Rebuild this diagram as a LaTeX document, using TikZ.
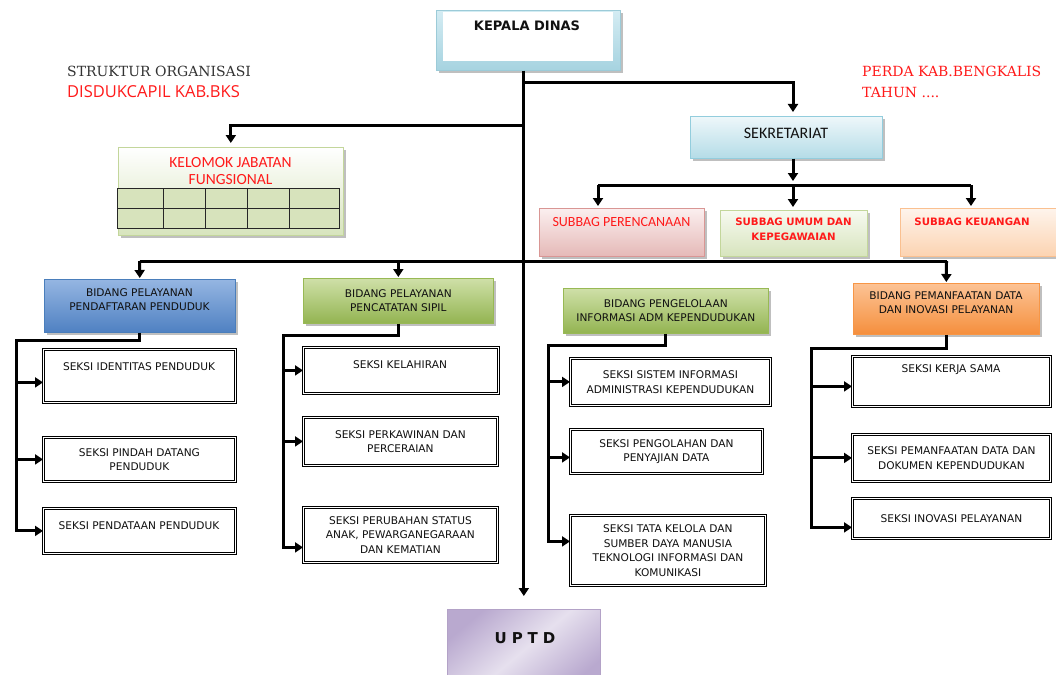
\documentclass[tikz,border=0pt]{standalone}
\usepackage{fontspec}
\setmainfont{DejaVu Sans}
\newfontfamily\serf{DejaVu Serif}
\newfontfamily\opens{Open Sans}
\newfontfamily\carl{Carlito}
\usetikzlibrary{arrows.meta,shadows,calc}
\definecolor{ored}{HTML}{FF1A1A}
\definecolor{ttl}{HTML}{333333}
\definecolor{kdtop}{HTML}{D4ECF3}
\definecolor{kdbot}{HTML}{A6D3E0}
\definecolor{kdbd}{HTML}{9CCBD8}
\definecolor{sek1}{HTML}{EEF7FA}
\definecolor{sek2}{HTML}{B4DCE7}
\definecolor{sekbd}{HTML}{93CDDD}
\definecolor{pk1}{HTML}{FBEFEF}
\definecolor{pk2}{HTML}{E5B9B7}
\definecolor{pkbd}{HTML}{D99694}
\definecolor{gr1}{HTML}{F7FAF1}
\definecolor{gr2}{HTML}{D7E4BD}
\definecolor{grbd}{HTML}{C3D69B}
\definecolor{or1}{HTML}{FEF4EC}
\definecolor{or2}{HTML}{FCD3B1}
\definecolor{orbd}{HTML}{FAC090}
\definecolor{bl1}{HTML}{95B6E2}
\definecolor{bl2}{HTML}{4F81C2}
\definecolor{blbd}{HTML}{4A7EBB}
\definecolor{gg1}{HTML}{CFE0A8}
\definecolor{gg2}{HTML}{93B451}
\definecolor{ggbd}{HTML}{98B954}
\definecolor{oo1}{HTML}{FCC395}
\definecolor{oo2}{HTML}{F58F3D}
\definecolor{oobd}{HTML}{F79646}
\definecolor{pu1}{HTML}{E6E0EE}
\definecolor{pu2}{HTML}{B9A9CF}
\definecolor{pubd}{HTML}{B3A2C7}
\definecolor{gridf}{HTML}{D7E3BC}
\definecolor{dtext}{HTML}{111111}
\begin{document}
\begin{tikzpicture}[x=1pt,y=-1pt,
  conn/.style={line width=3pt, draw=black},
  arr/.style={-{Triangle[length=8pt,width=10pt]}},
  sh/.style={drop shadow={shadow xshift=2.5pt,shadow yshift=-2.5pt,fill=black!50,opacity=0.5}},
  bx/.style={rectangle, inner sep=0pt, anchor=north west, align=center},
  small/.style={font=\fontsize{10.6}{14.5}\selectfont, text=dtext},
  seksi/.style={bx, small, draw=black, double=white, double distance=1.4pt, line width=0.8pt},
  bidtxt/.style={small},
  txt/.style={inner sep=0pt, align=center}
]
\useasboundingbox (0,0) rectangle (1056,674);
\clip (0,0) rectangle (1056,674);
\fill[white] (0,0) rectangle (1056,674);

% titles
\node[txt, anchor=west, font=\serf\fontsize{14}{16}\selectfont, text=ttl] (t1) at (67,71) {STRUKTUR ORGANISASI};
\node[txt, anchor=west, font=\opens\fontsize{16.5}{18}\selectfont, text=ored] (t2) at (67,92) {DISDUKCAPIL KAB.BKS};
\node[txt, anchor=west, font=\serf\fontsize{14}{16}\selectfont, text=ored] (t3) at (862,71) {PERDA KAB.BENGKALIS};
\node[txt, anchor=west, font=\serf\fontsize{14}{16}\selectfont, text=ored] (t4) at (862,92) {TAHUN ....};

% kepala dinas
\node[bx, minimum width=184pt, minimum height=60pt, top color=kdtop, bottom color=kdbot, draw=kdbd, line width=0.6pt, sh] (kd) at (436,10) {};
\fill[white] ($(kd.north west)+(7,2)$) rectangle ($(kd.south east)+(-8,-10)$);
\node[txt, font=\bfseries\fontsize{13}{15}\selectfont, text=dtext] (kdt) at (527,26) {KEPALA DINAS};

% sekretariat
\node[bx, minimum width=192pt, minimum height=42pt, top color=sek1, bottom color=sek2, draw=sekbd, line width=0.6pt, sh] (sek) at (690,116) {};
\node[txt, font=\carl\fontsize{16}{18}\selectfont, text=dtext] (sekt) at (786,133) {SEKRETARIAT};

% subbag
\node[bx, minimum width=165pt, minimum height=48pt, top color=pk1, bottom color=pk2, draw=pkbd, line width=0.6pt, sh] (sp) at (539,208) {};
\node[txt, font=\carl\fontsize{14}{16}\selectfont, text=ored] (spt) at (621.5,222) {SUBBAG PERENCANAAN};
\node[bx, minimum width=147pt, minimum height=46pt, top color=gr1, bottom color=gr2, draw=grbd, line width=0.6pt, sh] (su) at (720,210) {};
\node[txt, font=\bfseries\fontsize{10.2}{15}\selectfont, text=ored] (sut) at (793.5,229.5) {SUBBAG UMUM DAN\\KEPEGAWAIAN};
\node[bx, minimum width=190pt, minimum height=48pt, top color=or1, bottom color=or2, draw=orbd, line width=0.6pt, sh] (sk) at (900,208) {};
\node[txt, font=\bfseries\fontsize{10.2}{12}\selectfont, text=ored] (skt) at (972,222) {SUBBAG KEUANGAN};

% kelompok jabatan fungsional
\node[bx, minimum width=225pt, minimum height=88pt, top color=white, bottom color=gr2, draw=grbd, line width=0.6pt, sh] (kjf) at (118,147) {};
\node[txt, font=\carl\fontsize{15.5}{17}\selectfont, text=ored] (kjft) at (230.5,171.5) {KELOMOK JABATAN\\FUNGSIONAL};
\filldraw[fill=gridf, draw=black!85, line width=0.9pt] (117,188) rectangle (339,228);
\draw[black!85, line width=0.9pt] (117,208) -- (339,208)
  (163,188) -- (163,228) (205,188) -- (205,228) (247,188) -- (247,228) (289,188) -- (289,228);

% bidang
\node[bx, minimum width=191pt, minimum height=53pt, top color=bl1, bottom color=bl2, draw=blbd, line width=0.6pt, sh] (bd1) at (44,279) {};
\node[txt, bidtxt] (bd1t) at (139.5,299.5) {BIDANG PELAYANAN\\PENDAFTARAN PENDUDUK};
\node[bx, bidtxt, minimum width=190pt, minimum height=45pt, top color=gg1, bottom color=gg2, draw=ggbd, line width=0.6pt, sh] (bd2) at (303,278) {BIDANG PELAYANAN\\PENCATATAN SIPIL};
\node[bx, bidtxt, minimum width=205pt, minimum height=45pt, top color=gg1, bottom color=gg2, draw=ggbd, line width=0.6pt, sh] (bd3) at (563,288) {BIDANG PENGELOLAAN\\INFORMASI ADM KEPENDUDUKAN};
\node[bx, minimum width=186pt, minimum height=51pt, top color=oo1, bottom color=oo2, draw=oobd, line width=0.6pt, sh] (bd4) at (853,283) {};
\node[txt, bidtxt] (bd4t) at (946,302.5) {BIDANG PEMANFAATAN DATA\\DAN INOVASI PELAYANAN};

% seksi bidang 1
\node[seksi, minimum width=192pt, minimum height=53pt] (s11) at (43,349) {};
\node[txt, small] (s11t) at (139,367) {SEKSI IDENTITAS PENDUDUK};
\node[seksi, minimum width=192pt, minimum height=44pt] (s12) at (43,437) {SEKSI PINDAH DATANG\\PENDUDUK};
\node[seksi, minimum width=192pt, minimum height=45pt] (s13) at (43,508) {};
\node[txt, small] (s13t) at (139,526) {SEKSI PENDATAAN PENDUDUK};

% seksi bidang 2
\node[seksi, minimum width=195pt, minimum height=46pt] (s21) at (303,347) {};
\node[txt, small] (s21t) at (400,365) {SEKSI KELAHIRAN};
\node[seksi, minimum width=194pt, minimum height=48pt] (s22) at (303,417) {SEKSI PERKAWINAN DAN\\PERCERAIAN};
\node[seksi, minimum width=194pt, minimum height=55pt] (s23) at (303,507) {SEKSI PERUBAHAN STATUS\\ANAK, PEWARGANEGARAAN\\DAN KEMATIAN};

% seksi bidang 3
\node[seksi, minimum width=200pt, minimum height=47pt] (s31) at (570,358) {SEKSI SISTEM INFORMASI\\ADMINISTRASI KEPENDUDUKAN};
\node[seksi, minimum width=192pt, minimum height=44pt] (s32) at (570,429) {SEKSI PENGOLAHAN DAN\\PENYAJIAN DATA};
\node[seksi, minimum width=195pt, minimum height=70pt] (s33) at (570,515) {SEKSI TATA KELOLA DAN\\SUMBER DAYA MANUSIA\\TEKNOLOGI INFORMASI DAN\\KOMUNIKASI};

% seksi bidang 4
\node[seksi, minimum width=198pt, minimum height=50pt] (s41) at (852,356) {};
\node[txt, small] (s41t) at (951,370) {SEKSI KERJA SAMA};
\node[seksi, minimum width=198pt, minimum height=47pt] (s42) at (852,434) {SEKSI PEMANFAATAN DATA DAN\\DOKUMEN KEPENDUDUKAN};
\node[seksi, minimum width=198pt, minimum height=40pt] (s43) at (852,498) {SEKSI INOVASI PELAYANAN};

% UPTD
\node[bx, minimum width=153pt, minimum height=81pt, shading=axis, top color=pu2, bottom color=pu2, middle color=pu1, shading angle=40, draw=pubd, line width=0.6pt] (uptd) at (447,609) {};
\node[txt, font=\bfseries\fontsize{15}{17}\selectfont, text=dtext] (uptdt) at (525,638) {U\,\,P\,\,T\,\,D};

% connectors
\coordinate (j1) at (523.5,83);
\coordinate (j1e) at (793,83);
\coordinate (j2) at (523.5,125);
\coordinate (sb) at (793,185);
\coordinate (sbl) at (598,185);
\coordinate (sbr) at (971,185);
\coordinate (bbl) at (139.5,261);
\coordinate (bbr) at (946.5,261);

\draw[conn,arr,shorten >=13pt] (kd.south -| uptd.north) -- (uptd.north);
\draw[conn,arr,shorten >=4pt] (j1) -- (j1e) -- (j1e |- sek.north);
\draw[conn,arr,shorten >=4pt] (j2) -| (kjf.north);
\draw[conn,arr,shorten >=4pt] (sek.south -| sb) -- (sb);
\draw[conn] (sbl) -- (sbr);
\draw[conn,arr,shorten >=2pt] (sbl) -- (sbl |- sp.north);
\draw[conn,arr,shorten >=3pt] (sb) -- (sb |- su.north);
\draw[conn,arr,shorten >=2pt] (sbr) -- (sbr |- sk.north);
\draw[conn] (bbl) -- (bbr);
\draw[conn,arr,shorten >=1pt] (bbl) -- (bd1.north);
\draw[conn,arr,shorten >=1pt] (bd2.north |- bbl) -- (bd2.north);
\draw[conn,arr,shorten >=1pt] (bbr) -- (bd4.north);

% bidang 1 tree
\coordinate (v1) at (16,340);
\coordinate (a11) at ([yshift=-6.5pt]s11.west);
\draw[conn,arr] (bd1.south) -- (bd1.south |- v1) -- (v1) -- (v1 |- s13.west) -- (s13.west);
\draw[conn,arr] (a11 -| v1) -- (a11);
\draw[conn,arr] (s12.west -| v1) -- (s12.west);

% bidang 2 tree
\coordinate (v2) at (283,335);
\coordinate (a23) at ([yshift=-12.5pt]s23.west);
\draw[conn,arr] (bd2.south) -- (bd2.south |- v2) -- (v2) -- (v2 |- a23) -- (a23);
\draw[conn,arr] (s21.west -| v2) -- (s21.west);
\draw[conn,arr] (s22.west -| v2) -- (s22.west);

% bidang 3 tree
\coordinate (v3) at (548,345);
\coordinate (a32) at ([yshift=-6pt]s32.west);
\coordinate (a33) at ([yshift=9pt]s33.west);
\draw[conn,arr] (bd3.south) -- (bd3.south |- v3) -- (v3) -- (v3 |- a33) -- (a33);
\draw[conn,arr] (s31.west -| v3) -- (s31.west);
\draw[conn,arr] (a32 -| v3) -- (a32);

% bidang 4 tree
\coordinate (v4) at (811,348);
\coordinate (a41) at ([yshift=-5pt]s41.west);
\coordinate (a43) at ([yshift=-9pt]s43.west);
\draw[conn,arr] (bd4.south) -- (bd4.south |- v4) -- (v4) -- (v4 |- a43) -- (a43);
\draw[conn,arr] (a41 -| v4) -- (a41);
\draw[conn,arr] (s42.west -| v4) -- (s42.west);
\end{tikzpicture}
\end{document}
